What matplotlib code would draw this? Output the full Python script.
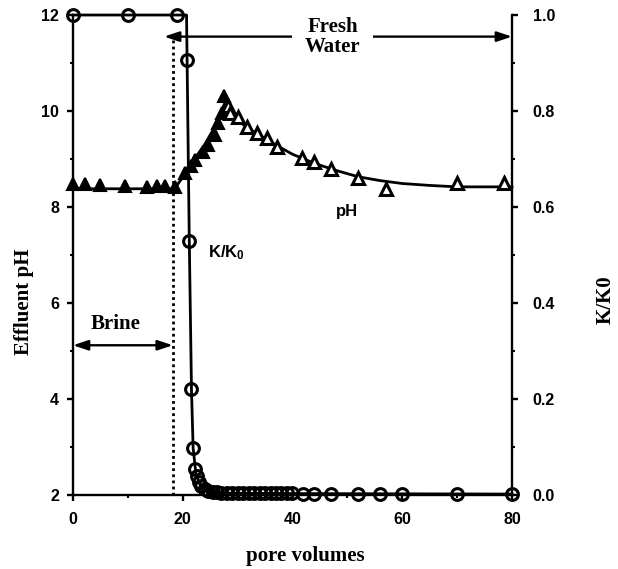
import numpy as np
import matplotlib.pyplot as plt
from matplotlib.ticker import MultipleLocator, FormatStrFormatter

plt.rcParams['font.family'] = 'Liberation Sans'
plt.rcParams['font.weight'] = 'bold'
plt.rcParams['mathtext.fontset'] = 'custom'
plt.rcParams['mathtext.rm'] = 'Liberation Sans:bold'
plt.rcParams['mathtext.bf'] = 'Liberation Sans:bold'

# effluent pH: solid triangles through brine and the pH rise, open ones after the peak
ph_fill_x = [0, 2.2, 5, 9.5, 13.5, 15.3, 16.8, 18.6, 20.4, 21.5, 22.2, 23.7, 24.6, 25.9, 26.4, 27.1, 27.6]
ph_fill_y = [8.47, 8.47, 8.45, 8.43, 8.42, 8.43, 8.43, 8.42, 8.70, 8.85, 8.98, 9.15, 9.29, 9.50, 9.75, 9.96, 10.32]
ph_open_x = [28.2, 28.7, 30.0, 31.7, 33.5, 35.3, 37.2, 41.7, 44.0, 47.0, 52.0, 57.0, 70.0, 78.5]
ph_open_y = [10.10, 9.95, 9.87, 9.67, 9.54, 9.44, 9.25, 9.02, 8.93, 8.80, 8.60, 8.38, 8.50, 8.50]

# smoothed pH trend
ph_fit_x = [0, 18.5, 20, 22, 24, 26, 27.6, 29, 31, 33, 35, 37, 40, 44, 48, 52, 56, 60, 65, 70, 80]
ph_fit_y = [8.38, 8.38, 8.62, 8.98, 9.30, 9.70, 10.15, 9.95, 9.72, 9.56, 9.43, 9.29, 9.10, 8.91, 8.76, 8.63, 8.55, 8.49, 8.45, 8.42, 8.42]

# permeability ratio K/K0
k_x = [0, 10, 19, 20.8, 21.2, 21.6, 21.9, 22.3, 22.6, 23.0, 23.4, 24.0, 24.7, 25.5, 26.3, 27.0,
       28, 29, 30, 31, 32, 33, 34, 35, 36, 37, 38, 39, 40, 42, 44, 47, 52, 56, 60, 70, 80]
k_y = [1.0, 1.0, 1.0, 0.906, 0.53, 0.22, 0.098, 0.055, 0.040, 0.028, 0.018, 0.012, 0.009, 0.007, 0.006, 0.005,
       0.005, 0.005, 0.004, 0.004, 0.004, 0.004, 0.004, 0.004, 0.004, 0.004, 0.004, 0.004, 0.004, 0.003, 0.003,
       0.003, 0.003, 0.003, 0.003, 0.003, 0.003]
k_fit_x = [0, 19, 20.7, 20.8, 21.2, 21.6, 21.9, 22.4, 23.2, 24.5, 27, 40, 80]
k_fit_y = [1.0, 1.0, 1.0, 0.906, 0.53, 0.22, 0.098, 0.045, 0.020, 0.008, 0.004, 0.003, 0.002]

brine_end = 18.2
brine_arrow_y = 5.12
fresh_arrow_y = 11.55
fresh_start = 16.6

serif = dict(family='Liberation Serif', weight='bold', size=15)

fig = plt.figure(figsize=(6.18, 5.69), dpi=100)
ax = fig.add_axes([0.118, 0.130, 0.7105, 0.8436])
ax2 = ax.twinx()

ax.set_xlim(0, 80)
ax.set_ylim(2, 12)
ax2.set_ylim(0, 1.0)

for a in (ax, ax2):
    a.spines['top'].set_visible(False)
    for s in a.spines.values():
        s.set_linewidth(1.7)
ax.spines['right'].set_visible(False)
ax2.spines['left'].set_visible(False)
ax2.spines['bottom'].set_visible(False)

ax.xaxis.set_major_locator(MultipleLocator(20))
ax.xaxis.set_minor_locator(MultipleLocator(10))
ax.yaxis.set_major_locator(MultipleLocator(2))
ax.yaxis.set_minor_locator(MultipleLocator(1))
ax2.yaxis.set_major_locator(MultipleLocator(0.2))
ax2.yaxis.set_minor_locator(MultipleLocator(0.1))
ax2.yaxis.set_major_formatter(FormatStrFormatter('%.1f'))

ax.tick_params(which='major', direction='out', length=4, width=1.7, labelsize=11.5, pad=6)
ax.tick_params(which='minor', direction='out', length=2.5, width=1.5)
ax.tick_params(axis='x', pad=8)
ax2.tick_params(which='major', direction='out', length=4, width=1.7, labelsize=11.5, pad=11)
ax2.tick_params(which='minor', direction='out', length=2.5, width=1.5)

# pH curve and markers
ax.plot(ph_fit_x, ph_fit_y, color='k', lw=2.0, zorder=3, clip_on=False)
ax.plot(ph_fill_x, ph_fill_y, ls='none', marker='^', ms=8.5, mfc='k', mec='k', mew=1.5, zorder=4, clip_on=False)
ax.plot(ph_open_x, ph_open_y, ls='none', marker='^', ms=8.5, mfc='white', mec='k', mew=2.2, zorder=4, clip_on=False)

# K/K0 curve and markers
ax2.plot(k_fit_x, k_fit_y, color='k', lw=2.0, zorder=3, clip_on=False)
ax2.plot(k_x, k_y, ls='none', marker='o', ms=8.5, mfc='none', mec='k', mew=2.2, zorder=4, clip_on=False)

# brine / fresh water injection periods
ax.vlines(brine_end, 2, fresh_arrow_y, colors='k', linestyles=(0, (1, 1.2)), lw=2.0, zorder=2)
arrow = dict(arrowstyle='<|-|>,head_length=0.6,head_width=0.2', color='k', lw=1.7,
             mutation_scale=15, shrinkA=0, shrinkB=0)
ax.annotate('', xy=(0, brine_arrow_y), xytext=(brine_end, brine_arrow_y), arrowprops=arrow, zorder=5)
ax.text(brine_end / 2 - 1.4, brine_arrow_y + 0.45, 'Brine', ha='center', va='center', fontdict=serif)
ax.annotate('', xy=(fresh_start, fresh_arrow_y), xytext=(80, fresh_arrow_y), arrowprops=arrow, zorder=5)
ax.text(47.3, fresh_arrow_y, 'Fresh\nWater', ha='center', va='center', linespacing=1.0, fontdict=serif,
        bbox=dict(boxstyle='square,pad=0.6', fc='white', ec='none'), zorder=6)

# curve labels
ax.text(28, 7.04, r'$\mathbf{K/K_0}$', ha='center', va='center', fontsize=12)
ax.text(49.9, 7.9, 'pH', ha='center', va='center', fontsize=12, fontweight='bold')

fig.text(24 / 618, 1 - 302 / 569, 'Effluent pH', rotation=90, ha='center', va='center', fontdict=serif)
fig.text(305 / 618, 1 - 556 / 569, 'pore volumes', ha='center', va='center', fontdict=serif)
fig.text(606 / 618, 1 - 300 / 569, 'K/K0', rotation=90, ha='center', va='center', fontdict=serif)

fig.savefig('out.png', dpi=100)
